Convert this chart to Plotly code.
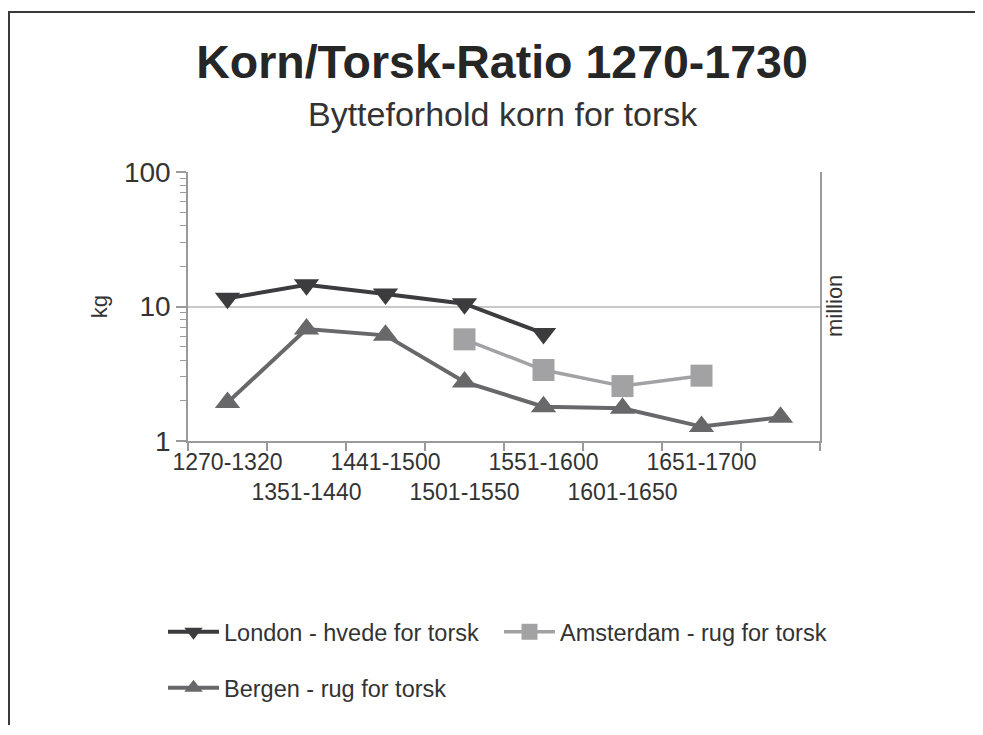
import plotly.graph_objects as go

periods = ["1270-1320", "1351-1440", "1441-1500", "1501-1550",
           "1551-1600", "1601-1650", "1651-1700", "1701-1730"]
tick_labels = ["1270-1320", "<br>1351-1440", "1441-1500", "<br>1501-1550",
               "1551-1600", "<br>1601-1650", "1651-1700", ""]

london = [11.5, 14.5, 12.4, 10.5, 6.3, None, None, None]
amsterdam = [None, None, None, 5.7, 3.37, 2.56, 3.06, None]
bergen = [1.93, 6.8, 6.1, 2.75, 1.8, 1.75, 1.28, 1.5]

y_ticks = [1, 10, 100]
y_ticktext = ["1", "10", "100"]

FONT = "Liberation Sans, Arial, sans-serif"
TXT = "#333333"
AX = "#9a9a9a"

# page offset of the figure (default body margin)
OFF = 8
W, H = 983 - 2 * OFF, 735 - 2 * OFF
# plot area in page pixels
PL, PR, PT, PB = 188, 820, 172, 441
L, R, T, B = PL - OFF, W - (PR - OFF), PT - OFF, H - (PB - OFF)
PW, PH = PR - PL, PB - PT


def px(x):
    return (x - PL) / PW


def py(y):
    return (PB - y) / PH


fig = go.Figure()
fig.add_trace(go.Scatter(
    x=periods, y=london, name="London - hvede for torsk", mode="lines+markers",
    line=dict(color="#3c3c3e", width=4),
    marker=dict(symbol="triangle-down", size=22, color="#3c3c3e"),
    legend="legend"))
fig.add_trace(go.Scatter(
    x=periods, y=amsterdam, name="Amsterdam - rug for torsk", mode="lines+markers",
    line=dict(color="#a2a2a4", width=3.5),
    marker=dict(symbol="square", size=22, color="#a2a2a4"),
    legend="legend"))
fig.add_trace(go.Scatter(
    x=periods, y=bergen, name="Bergen - rug for torsk", mode="lines+markers",
    line=dict(color="#68686a", width=4),
    marker=dict(symbol="triangle-up", size=22, color="#68686a"),
    legend="legend2"))

fig.update_layout(
    width=W, height=H,
    margin=dict(l=L, r=R, t=T, b=B, autoexpand=False),
    paper_bgcolor="white", plot_bgcolor="white",
    font=dict(family=FONT, color=TXT, size=22),
    title=dict(text="<b>Korn/Torsk-Ratio 1270-1730</b>",
               font=dict(family=FONT, size=46.5, color="#262626"),
               x=px(502), xref="paper", xanchor="center",
               y=1 - (62 - OFF) / H, yref="container", yanchor="middle"),
    annotations=[
        dict(text="Bytteforhold korn for torsk", showarrow=False,
             xref="paper", yref="paper", x=px(503), y=py(114),
             xanchor="center", yanchor="middle",
             font=dict(family=FONT, size=34, color="#333333")),
        dict(text="million", showarrow=False, textangle=-90,
             xref="paper", yref="paper", x=px(834), y=py(306),
             xanchor="center", yanchor="middle",
             font=dict(family=FONT, size=22, color=TXT)),
    ],
    showlegend=True,
    legend=dict(orientation="h", x=px(163), xanchor="left",
                y=py(632), yanchor="middle", entrywidth=270,
                font=dict(family=FONT, size=23.5, color=TXT),
                bgcolor="rgba(0,0,0,0)", itemwidth=51),
    legend2=dict(orientation="h", x=px(163), xanchor="left",
                 y=py(688), yanchor="middle",
                 font=dict(family=FONT, size=23.5, color=TXT),
                 bgcolor="rgba(0,0,0,0)", itemwidth=51),
    xaxis=dict(type="category", categoryorder="array", categoryarray=periods,
               tickmode="array", tickvals=periods, ticktext=tick_labels,
               range=[-0.5, len(periods) - 0.5],
               tickson="boundaries", ticks="outside", ticklen=8,
               tickcolor=AX, tickwidth=1.5,
               showline=True, linecolor=AX, linewidth=1.5,
               showgrid=False, zeroline=False,
               tickfont=dict(family=FONT, size=23, color=TXT), tickangle=0),
    yaxis=dict(type="log", range=[0, 2], tickmode="array",
               tickvals=y_ticks, ticktext=y_ticktext,
               ticks="outside", ticklen=10, tickcolor=AX, tickwidth=1.5,
               minor=dict(ticks="outside", ticklen=6, tickcolor=AX,
                          tickwidth=1, dtick="D1", showgrid=False),
               showline=True, mirror=True, linecolor=AX, linewidth=1.5,
               showgrid=True, gridcolor="#c8c8c8", gridwidth=1.5,
               zeroline=False,
               tickfont=dict(family=FONT, size=28, color=TXT),
               title=dict(text="kg", standoff=10,
                          font=dict(family=FONT, size=22, color=TXT))),
    shapes=[
        dict(type="line", xref="paper", yref="paper",
             x0=px(8), x1=px(983), y0=py(12), y1=py(12),
             line=dict(color="#3a3a3a", width=2)),
        dict(type="line", xref="paper", yref="paper",
             x0=px(9), x1=px(9), y0=py(12), y1=py(725),
             line=dict(color="#3a3a3a", width=2)),
    ],
)

fig.write_html("out.html")
